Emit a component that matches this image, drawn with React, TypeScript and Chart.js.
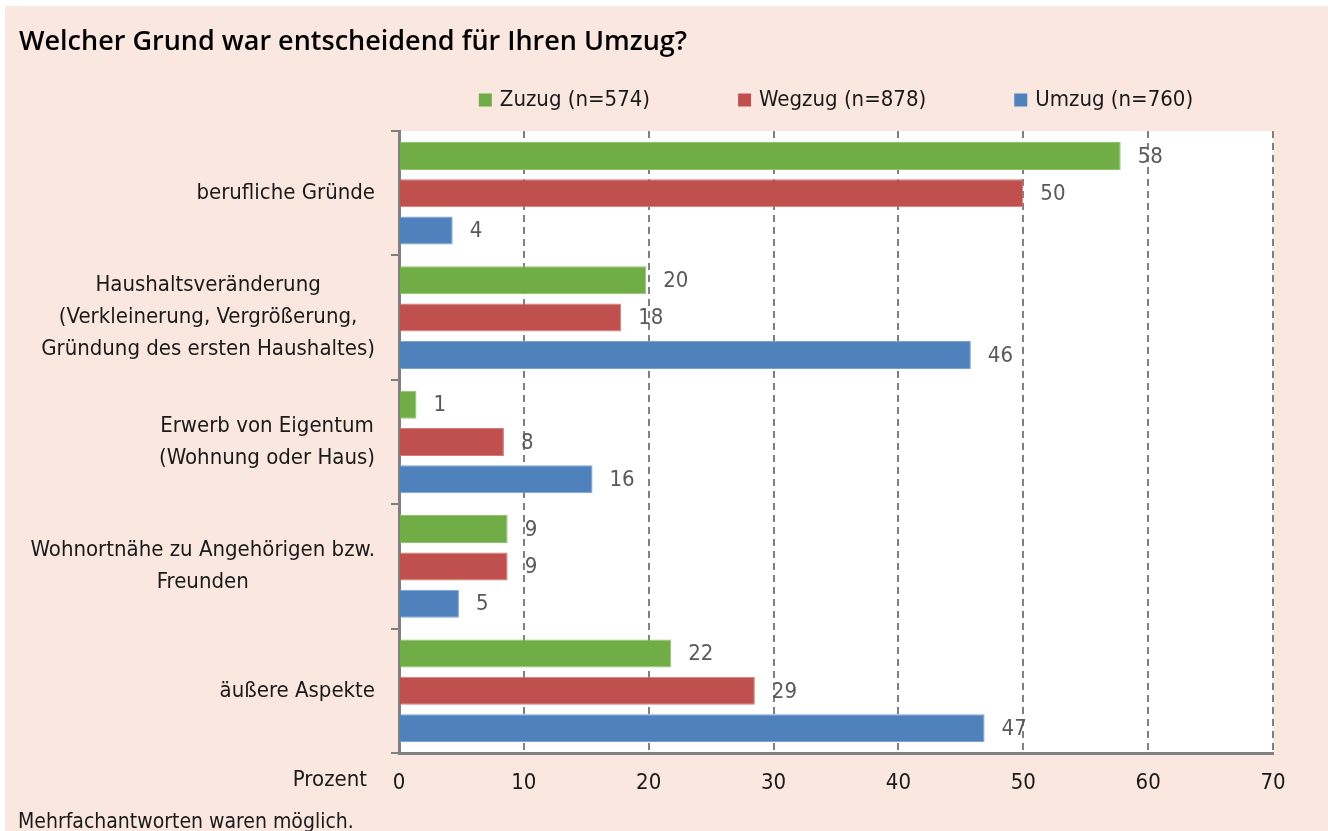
import React, { useEffect, useRef } from "react";
import { Chart, registerables } from "chart.js";

Chart.register(...registerables);

const TITLE = "Welcher Grund war entscheidend für Ihren Umzug?";
const CATEGORIES: string[][] = [
  ["berufliche Gründe"],
  ["Haushaltsveränderung", "(Verkleinerung, Vergrößerung,", "Gründung des ersten Haushaltes)"],
  ["Erwerb von Eigentum", "(Wohnung oder Haus)"],
  ["Wohnortnähe zu Angehörigen bzw.", "Freunden"],
  ["äußere Aspekte"],
];
const SERIES_LABELS = ["Zuzug (n=574)", "Wegzug (n=878)", "Umzug (n=760)"];
const ZUZUG = [57.8, 19.8, 1.4, 8.7, 21.8];
const WEGZUG = [50.0, 17.8, 8.4, 8.7, 28.5];
const UMZUG = [4.3, 45.8, 15.5, 4.8, 46.9];
const X_MIN = 0;
const X_MAX = 70;
const X_STEP = 10;
const X_AXIS_LABEL = "Prozent";
const FOOTNOTE = "Mehrfachantworten waren möglich.";

const COLORS = ["#70ad47", "#c0504d", "#4f81bd"];
const BORDERS = ["#8fc46c", "#d47a77", "#7aa1d2"];

const FONT = "'Liberation Sans Narrow', 'DejaVu Sans Condensed', Roboto, sans-serif";
const TITLE_FONT = "'Open Sans', 'Noto Sans', sans-serif";
const PINK = "#f9e7e0";

const decorPlugin = {
  id: "decor",
  beforeDraw(chart: any) {
    const { ctx, chartArea } = chart;
    ctx.save();
    ctx.fillStyle = "#ffffff";
    ctx.fillRect(0, 0, chart.width, chart.height);
    ctx.fillStyle = PINK;
    ctx.fillRect(5, 6, chart.width - 5, chart.height - 6);
    ctx.fillStyle = "#ffffff";
    ctx.fillRect(chartArea.left, chartArea.top, chartArea.right - chartArea.left, chartArea.bottom - chartArea.top);
    ctx.restore();
  },
  afterDatasetsDraw(chart: any) {
    const { ctx } = chart;
    ctx.save();
    ctx.font = `300 22px ${FONT}`;
    ctx.fillStyle = "#595959";
    ctx.textAlign = "left";
    ctx.textBaseline = "middle";
    chart.data.datasets.forEach((ds: any, i: number) => {
      const meta = chart.getDatasetMeta(i);
      meta.data.forEach((bar: any, j: number) => {
        ctx.fillText(String(Math.round(ds.data[j])), bar.x + 17, bar.y + 1);
      });
    });
    ctx.restore();
  },
  afterDraw(chart: any) {
    const { ctx, chartArea } = chart;
    ctx.save();
    // title
    ctx.font = `600 27px ${TITLE_FONT}`;
    ctx.fillStyle = "#000000";
    ctx.textAlign = "left";
    ctx.textBaseline = "middle";
    ctx.fillText(TITLE, 19, 42);

    // legend, centred over the plot area
    ctx.font = `22px ${FONT}`;
    const box = 13;
    const gap = 8;
    const spacing = 88;
    const widths = chart.data.datasets.map((ds: any) => box + gap + ctx.measureText(ds.label).width);
    const total = widths.reduce((a: number, b: number) => a + b, 0) + spacing * (widths.length - 1);
    let x = (chartArea.left + chartArea.right) / 2 - total / 2;
    const ly = 100;
    chart.data.datasets.forEach((ds: any, i: number) => {
      ctx.fillStyle = ds.backgroundColor;
      ctx.fillRect(x, ly - box / 2, box, box);
      ctx.fillStyle = "#1a1a1a";
      ctx.textAlign = "left";
      ctx.fillText(ds.label, x + box + gap, ly);
      x += widths[i] + spacing;
    });

    // category labels: block right-aligned, lines centred
    const yScale = chart.scales.y;
    const right = 375;
    const lh = 32;
    ctx.fillStyle = "#1a1a1a";
    ctx.textAlign = "center";
    chart.data.labels.forEach((lines: string[], i: number) => {
      const cy = yScale.getPixelForValue(i);
      const maxW = Math.max(...lines.map((l) => ctx.measureText(l).width));
      const cx = right - maxW / 2;
      const y0 = cy - ((lines.length - 1) * lh) / 2;
      lines.forEach((l, k) => ctx.fillText(l, cx, y0 + k * lh));
    });

    // axis label and footnote
    ctx.textAlign = "right";
    ctx.fillText(X_AXIS_LABEL, 367, 780);
    ctx.textAlign = "left";
    ctx.font = `21px ${FONT}`;
    ctx.fillText(FOOTNOTE, 18, 823);
    ctx.restore();
  },
};

export default function App() {
  const ref = useRef<HTMLCanvasElement | null>(null);

  useEffect(() => {
    document.body.style.margin = "0";
    document.body.style.overflow = "hidden";
    const canvas = ref.current;
    if (!canvas) return;
    const chart = new Chart(canvas, {
      type: "bar",
      data: {
        labels: CATEGORIES as any,
        datasets: [ZUZUG, WEGZUG, UMZUG].map((d, i) => ({
          label: SERIES_LABELS[i],
          data: d,
          backgroundColor: COLORS[i],
          borderColor: BORDERS[i],
          borderWidth: 1,
          barPercentage: 0.75,
          categoryPercentage: 0.9,
        })),
      },
      options: {
        indexAxis: "y",
        responsive: false,
        animation: false,
        layout: { padding: { top: 131, right: 55, left: 0, bottom: 0 } },
        plugins: {
          legend: { display: false },
          tooltip: { enabled: false },
          title: { display: false },
        },
        scales: {
          x: {
            type: "linear",
            min: X_MIN,
            max: X_MAX,
            ticks: {
              stepSize: X_STEP,
              font: { family: FONT, size: 22 },
              color: "#1a1a1a",
              padding: 17,
            },
            grid: { color: "#808080", lineWidth: 2, drawTicks: false },
            border: { display: true, color: "#808080", width: 3, dash: [7, 5] },
            afterFit: (s: any) => {
              s.height = 78;
            },
          },
          y: {
            type: "category",
            ticks: { color: "rgba(0,0,0,0)", font: { family: FONT, size: 22 } },
            grid: {
              drawOnChartArea: false,
              drawTicks: true,
              tickLength: 8,
              color: "#808080",
              lineWidth: 2,
              offset: true,
            },
            border: { display: true, color: "#808080", width: 3 },
            afterFit: (s: any) => {
              s.width = 399;
            },
          },
        },
      },
      plugins: [decorPlugin],
    } as any);
    return () => chart.destroy();
  }, []);

  return (
    <div style={{ width: 1328, height: 831, position: "relative" }}>
      <canvas ref={ref} width={1328} height={831} style={{ display: "block" }} />
    </div>
  );
}
